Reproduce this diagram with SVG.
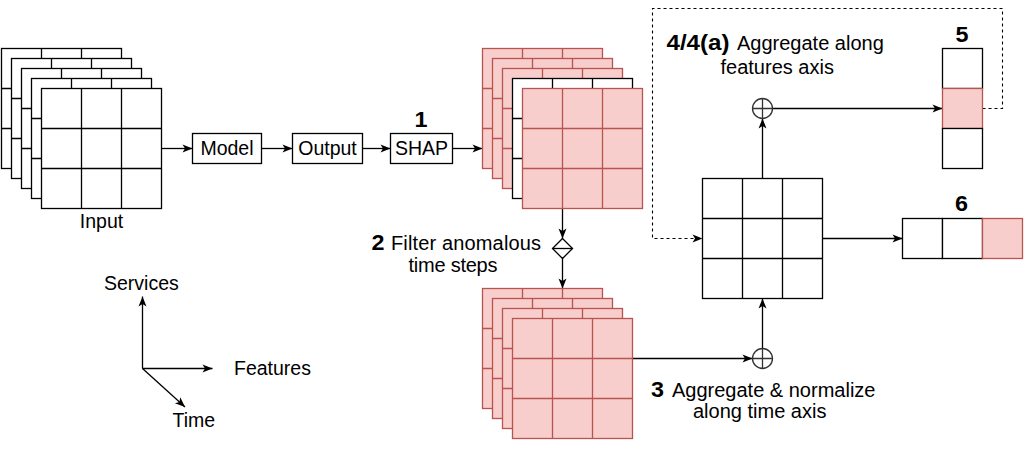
<svg xmlns="http://www.w3.org/2000/svg" xmlns:xlink="http://www.w3.org/1999/xlink" width="1024" height="450" viewBox="0 0 1024 450">
<style>
text{font-family:"Liberation Sans",Arial,Helvetica,sans-serif;font-size:19.5px;fill:#000}
.b{font-weight:bold;font-size:21.5px}
.m{font-size:20px}
.w{fill:#fff;stroke:#000;stroke-width:1.3}
.r{fill:#f8cecc;stroke:#b85450;stroke-width:1.3}
.ln{fill:none;stroke:#000;stroke-width:1.3}
.dash{fill:none;stroke:#000;stroke-width:1.1;stroke-dasharray:3 3}
.op{fill:#fff;stroke:#333;stroke-width:1.3}
</style>
<defs>
<g id="grid"><rect width="120" height="120"/><path d="M40,0V120M80,0V120M0,40H120M0,80H120" fill="none"/></g>
<marker id="ah" markerUnits="userSpaceOnUse" markerWidth="11" markerHeight="9" refX="10" refY="4" orient="auto" overflow="visible">
<path d="M0,0 L10,4 L0,8 L2.5,4 z" fill="#000"/>
</marker>
</defs>
<rect width="1024" height="450" fill="#fff"/>

<g id="connectors">
<path class="ln" d="M161.5,148.5H192.5" marker-end="url(#ah)"/>
<path class="ln" d="M261.5,148.5H292.5" marker-end="url(#ah)"/>
<path class="ln" d="M362.5,148.5H390.5" marker-end="url(#ah)"/>
<path class="ln" d="M452.5,148.5H482.5" marker-end="url(#ah)"/>
<path class="ln" d="M562.5,208.5V238.5" marker-end="url(#ah)"/>
<path class="ln" d="M562.5,258.5V288.5" marker-end="url(#ah)"/>
<path class="ln" d="M632.5,358.5H752.5" marker-end="url(#ah)"/>
<path class="ln" d="M762.5,348.5V298.5" marker-end="url(#ah)"/>
<path class="ln" d="M762.5,178.5V118.5" marker-end="url(#ah)"/>
<path class="ln" d="M772.5,108.5H942.5" marker-end="url(#ah)"/>
<path class="ln" d="M822.5,238.5H902.5" marker-end="url(#ah)"/>
<path class="dash" d="M982.5,108.5H1002.5V8.5H652.5V238.5H702.5" marker-end="url(#ah)"/>
<path class="ln" d="M142.5,368.5V296.5" marker-end="url(#ah)"/>
<path class="ln" d="M142.5,368.5H212.5" marker-end="url(#ah)"/>
<path class="ln" d="M142.5,368.5L185,407" marker-end="url(#ah)"/>
</g>

<g id="input">
<use xlink:href="#grid" class="w" x="1.5" y="48.5"/>
<use xlink:href="#grid" class="w" x="11.5" y="58.5"/>
<use xlink:href="#grid" class="w" x="21.5" y="68.5"/>
<use xlink:href="#grid" class="w" x="31.5" y="78.5"/>
<use xlink:href="#grid" class="w" x="41.5" y="88.5"/>
<text x="101.5" y="228" text-anchor="middle">Input</text>
</g>

<g id="model">
<rect class="w" x="192.5" y="133.5" width="69" height="30"/>
<text x="227" y="155" text-anchor="middle">Model</text>
</g>
<g id="output">
<rect class="w" x="292.5" y="133.5" width="70" height="30"/>
<text x="327.5" y="155" text-anchor="middle">Output</text>
</g>
<g id="shap">
<rect class="w" x="390.5" y="133.5" width="62" height="30"/>
<text x="421.5" y="155" text-anchor="middle">SHAP</text>
<text class="b" x="414.5" y="127" textLength="13" lengthAdjust="spacingAndGlyphs">1</text>
</g>

<g id="shap-values">
<use xlink:href="#grid" class="r" x="482.5" y="48.5"/>
<use xlink:href="#grid" class="r" x="492.5" y="58.5"/>
<use xlink:href="#grid" class="r" x="502.5" y="68.5"/>
<use xlink:href="#grid" class="w" x="512.5" y="78.5"/>
<use xlink:href="#grid" class="r" x="522.5" y="88.5"/>
</g>

<g id="filter">
<path class="w" d="M562.5,238.5L572.5,248.5L562.5,258.5L552.5,248.5Z"/>
<path class="ln" d="M552.5,248.5H572.5"/>
<text class="b" x="371.5" y="250" textLength="13" lengthAdjust="spacingAndGlyphs">2</text>
<text class="m" x="391" y="250" textLength="150">Filter anomalous</text>
<text class="m" x="408.5" y="272" textLength="89">time steps</text>
</g>

<g id="filtered">
<use xlink:href="#grid" class="r" x="482.5" y="288.5"/>
<use xlink:href="#grid" class="r" x="492.5" y="298.5"/>
<use xlink:href="#grid" class="r" x="502.5" y="308.5"/>
<use xlink:href="#grid" class="r" x="512.5" y="318.5"/>
</g>

<g id="agg-time">
<circle class="op" cx="762.5" cy="358.5" r="10"/>
<path class="ln" d="M752.5,358.5H772.5M762.5,348.5V368.5" style="stroke:#333"/>
<text class="b" x="651" y="397" textLength="13" lengthAdjust="spacingAndGlyphs">3</text>
<text class="m" x="672" y="397">Aggregate &amp; normalize</text>
<text class="m" x="693" y="418">along time axis</text>
</g>

<g id="matrix">
<use xlink:href="#grid" class="w" x="702.5" y="178.5"/>
</g>

<g id="agg-features">
<circle class="op" cx="762.5" cy="108.5" r="10"/>
<path class="ln" d="M752.5,108.5H772.5M762.5,98.5V118.5" style="stroke:#333"/>
<text class="b" x="666.5" y="50" textLength="63" lengthAdjust="spacingAndGlyphs">4/4(a)</text>
<text class="m" x="737" y="50">Aggregate along</text>
<text class="m" x="720.5" y="74">features axis</text>
</g>

<g id="out5">
<rect class="w" x="942.5" y="48.5" width="40" height="40"/>
<rect class="r" x="942.5" y="88.5" width="40" height="40"/>
<rect class="w" x="942.5" y="128.5" width="40" height="40"/>
<text class="b" x="955.5" y="41.5" textLength="13" lengthAdjust="spacingAndGlyphs">5</text>
</g>

<g id="out6">
<rect class="w" x="902.5" y="218.5" width="40" height="40"/>
<rect class="w" x="942.5" y="218.5" width="40" height="40"/>
<rect class="r" x="982.5" y="218.5" width="40" height="40"/>
<text class="b" x="955" y="211" textLength="13" lengthAdjust="spacingAndGlyphs">6</text>
</g>

<g id="axes">
<text x="104" y="290">Services</text>
<text x="234" y="375">Features</text>
<text x="172.5" y="427">Time</text>
</g>
</svg>
